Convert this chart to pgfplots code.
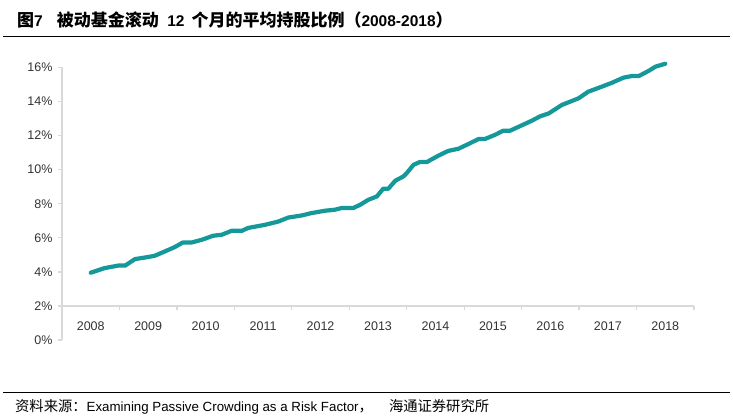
\documentclass[border=0pt]{standalone}
\usepackage{fontspec}
\setmainfont{Liberation Sans}
\newfontfamily\cjk{Noto Sans CJK SC}
\usepackage{pgfplots}
\pgfplotsset{compat=1.18}

\definecolor{axisgray}{RGB}{217,217,217}
\definecolor{tealline}{RGB}{20,152,153}

\newcommand\tcjk[1]{{\fontsize{17}{18}\selectfont\cjk #1}}
\newcommand\scjk[1]{{\fontsize{14.3}{16}\selectfont\cjk #1}}

\begin{document}
\begin{tikzpicture}
\useasboundingbox (0,0) rectangle (733pt,419pt);

% title and rule
\node[anchor=west, inner sep=0pt] at (17pt,399pt)
  {\fontsize{15.5}{18}\selectfont\bfseries\tcjk{图}7\hspace{0.9em}\tcjk{被动基金滚动}\hspace{0.55em}12\hspace{0.45em}\tcjk{个月的平均持股比例（}2008-2018\tcjk{）}};
\draw[line width=0.8pt] (3pt,383pt) -- (730pt,383pt);

% source
\draw[line width=0.8pt] (3pt,27pt) -- (730pt,27pt);
\node[anchor=west, inner sep=0pt] at (15pt,12pt)
  {\fontsize{13.3}{16}\selectfont\scjk{资料来源：}Examining Passive Crowding as a Risk Factor\scjk{，}\hspace{16pt}\scjk{海通证券研究所}};

% x = years since 2008
\begin{axis}[
    at={(62pt,79pt)}, anchor=south west,
    scale only axis, width=632pt, height=272.5pt,
    xmin=-0.5, xmax=10.5,
    ymin=0, ymax=16,
    axis y line=left, axis x line=bottom,
    x axis line style={draw=none},
    y axis line style={-, draw=axisgray, line width=1.3pt},
    xtick={0,1,2,3,4,5,6,7,8,9,10},
    xticklabels={2008,2009,2010,2011,2012,2013,2014,2015,2016,2017,2018},
    ytick={0,2,4,6,8,10,12,14,16},
    yticklabels={0\%,2\%,4\%,6\%,8\%,10\%,12\%,14\%,16\%},
    tick align=outside,
    major tick length=4pt,
    xtick style={draw=none},
    ytick style={draw=axisgray, line width=1.3pt},
    ticklabel style={font=\fontsize{12.5}{14}\selectfont, text=black!80},
    xticklabel style={anchor=center, yshift=18pt},
    yticklabel style={xshift=-2pt},
    clip=false,
  ]
  % horizontal axis crosses at 2%
  \draw[axisgray, line width=1.3pt] (axis cs:-0.5,2) -- (axis cs:10.5,2);
  \pgfplotsinvokeforeach{0.5,1.5,2.5,3.5,4.5,5.5,6.5,7.5,8.5,9.5,10.5}{
    \draw[axisgray, line width=1.3pt] (axis cs:#1,2) -- (axis cs:#1,1.77);
  }

  \addplot[tealline, line width=4.2pt, line join=round, line cap=round] coordinates {
    (0.00,3.95) (0.24,4.22) (0.48,4.37) (0.60,4.37)
    (0.77,4.75) (0.94,4.84) (1.11,4.94) (1.29,5.20)
    (1.46,5.45) (1.60,5.72) (1.75,5.72) (1.93,5.88)
    (2.13,6.12) (2.28,6.18) (2.45,6.41) (2.63,6.41)
    (2.74,6.58) (3.03,6.76) (3.26,6.95) (3.44,7.19)
    (3.67,7.31) (3.84,7.45) (4.08,7.59) (4.25,7.65)
    (4.37,7.75) (4.57,7.75) (4.69,7.94) (4.83,8.23)
    (4.98,8.43) (5.09,8.88) (5.18,8.88) (5.30,9.35)
    (5.44,9.60) (5.50,9.80) (5.62,10.29) (5.73,10.45)
    (5.85,10.45) (6.05,10.82) (6.22,11.10) (6.40,11.23)
    (6.57,11.50) (6.75,11.80) (6.86,11.80) (7.04,12.05)
    (7.18,12.29) (7.30,12.29) (7.50,12.60) (7.68,12.88)
    (7.82,13.13) (7.97,13.30) (8.20,13.80) (8.49,14.19)
    (8.66,14.58) (8.90,14.88) (9.07,15.10) (9.27,15.40)
    (9.42,15.50) (9.54,15.50) (9.71,15.80) (9.83,16.05)
    (10.00,16.22)
  };
\end{axis}
\end{tikzpicture}
\end{document}
